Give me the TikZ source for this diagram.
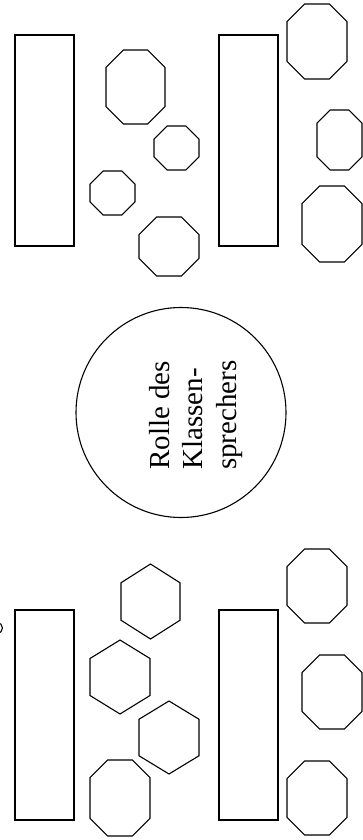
\documentclass[tikz,border=0pt]{standalone}
\usepackage{fontspec}
\setmainfont{Liberation Serif}
\tikzset{
  seat/.style={draw=black, line width=1.1pt, line join=miter},
  desk/.style={draw=black, line width=1.1pt},
  lbl/.style={rotate=90, anchor=base west, inner sep=0pt, font=\fontsize{29}{34}\selectfont}
}
\newcommand{\octo}[4]{%
  \pgfmathsetmacro{\cc}{0.293*(#3-#1)}%
  \draw[seat] ({#1+\cc},#2) -- ({#3-\cc},#2) -- (#3,{#2+\cc}) -- (#3,{#4-\cc})
    -- ({#3-\cc},#4) -- ({#1+\cc},#4) -- (#1,{#4-\cc}) -- (#1,{#2+\cc}) -- cycle;}
\newcommand{\hexo}[4]{%
  \pgfmathsetmacro{\dd}{0.25*(#4-#2)}%
  \draw[seat] ({(#1+#3)/2},#2) -- (#3,{#2+\dd}) -- (#3,{#4-\dd})
    -- ({(#1+#3)/2},#4) -- (#1,{#4-\dd}) -- (#1,{#2+\dd}) -- cycle;}
\begin{document}
\begin{tikzpicture}[x=1pt,y=-1pt]
\useasboundingbox (0,0) rectangle (363,840);
\clip (0,0) rectangle (363,840);
% desks
\draw[desk] (15,35) rectangle (74,246);
\draw[desk] (219,35) rectangle (278,246);
\draw[desk] (15,610) rectangle (74,820);
\draw[desk] (219,610) rectangle (278,820);
% octagons
\octo{106}{50}{165}{124}
\octo{154}{126}{199}{170}
\octo{90}{171}{135}{215}
\octo{139}{217}{199}{276}
\octo{287}{4}{347}{79}
\octo{317}{110}{362}{170}
\octo{302}{186}{362}{262}
\octo{90}{760}{150}{836}
\octo{287}{549}{347}{623}
\octo{302}{655}{362}{729}
\octo{287}{761}{347}{835}
% hexagons
\hexo{121}{564}{180}{639}
\hexo{90}{640}{150}{714}
\hexo{139}{701}{199}{774}
% partial shape at the left edge
\draw[seat] (-3,628) circle (5.5);
% centre circle
\node[circle, draw=black, line width=1.1pt, minimum size=210pt, inner sep=0pt] (centre) at (181,412.5) {};
\node[lbl] (l1) at (169,470) {Rolle des};
\node[lbl] (l2) at (202.5,470) {Klassen-};
\node[lbl] (l3) at (236,470) {sprechers};
\end{tikzpicture}
\end{document}
